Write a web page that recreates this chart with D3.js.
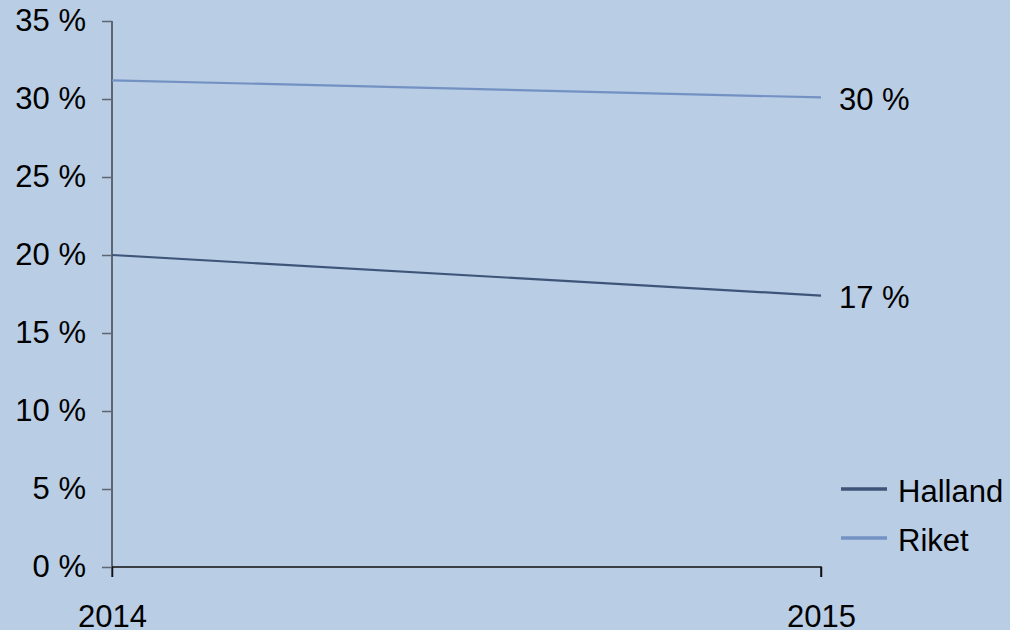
<!DOCTYPE html>
<html>
<head>
<meta charset="utf-8">
<script src="https://cdn.jsdelivr.net/npm/d3@7"></script>
<style>
  body { margin: 0; background: #B9CDE5; }
  svg { display: block; font-family: "Liberation Sans", Arial, sans-serif; }
</style>
</head>
<body>
<svg id="chart" width="1010" height="630"></svg>
<script>
// Data
const years = ["2014", "2015"];
const halland = [20.0, 17.4];
const riket = [31.2, 30.1];
const yTicks = [0, 5, 10, 15, 20, 25, 30, 35];
const seriesNames = ["Halland", "Riket"];
const endLabels = ["17 %", "30 %"];

const HALLAND_COLOR = "#3E5579";
const RIKET_COLOR = "#7391C2";
const AXIS_COLOR = "#5D6672";

const svg = d3.select("#chart");
const width = 1010, height = 630;

svg.append("rect").attr("width", width).attr("height", height).attr("fill", "#B9CDE5");

// Scales
const x = d3.scalePoint().domain(years).range([112, 821]);
const y = d3.scaleLinear().domain([0, 35]).range([567, 21]);

// Y axis
const axisY = d3.axisLeft(y)
  .tickValues(yTicks)
  .tickSize(10)
  .tickPadding(16)
  .tickFormat((d) => `${d} %`);

const gY = svg.append("g").attr("transform", `translate(${x("2014")}, 0)`).call(axisY);
gY.select(".domain").remove();
gY.selectAll(".tick line").attr("stroke", AXIS_COLOR).attr("stroke-width", 1.5);
gY.selectAll(".tick text")
  .attr("fill", "#000")
  .style("font-size", "31px")
  .style("font-family", "Liberation Sans, Arial, sans-serif");

// Vertical axis line extends past 0
svg.append("line")
  .attr("x1", x("2014")).attr("x2", x("2014"))
  .attr("y1", y(35)).attr("y2", y(0) + 10)
  .attr("stroke", AXIS_COLOR).attr("stroke-width", 2);

// X axis
const axisX = d3.axisBottom(x).tickSize(10).tickPadding(28);
const gX = svg.append("g").attr("transform", `translate(0, ${y(0)})`).call(axisX);
gX.select(".domain").attr("stroke", "#111").attr("stroke-width", 1.5)
  .attr("d", `M${x("2014")},0H${x("2015")}V10`);
gX.selectAll(".tick line").attr("stroke", "#111").attr("stroke-width", 1.5);
gX.selectAll(".tick text")
  .attr("fill", "#000")
  .style("font-size", "31px")
  .style("font-family", "Liberation Sans, Arial, sans-serif");

// Lines
const line = d3.line().x((d, i) => x(years[i])).y((d) => y(d));

svg.append("path").datum(riket)
  .attr("fill", "none").attr("stroke", RIKET_COLOR).attr("stroke-width", 2.2)
  .attr("d", line);
svg.append("path").datum(halland)
  .attr("fill", "none").attr("stroke", HALLAND_COLOR).attr("stroke-width", 2.2)
  .attr("d", line);

// End labels
[halland, riket].forEach((s, i) => {
  svg.append("text")
    .attr("x", x("2015") + 18)
    .attr("y", y(s[s.length - 1]) + 2)
    .attr("dominant-baseline", "central")
    .attr("font-size", 31)
    .attr("fill", "#000")
    .text(endLabels[i]);
});

// Legend
const legend = svg.append("g").attr("transform", "translate(841, 489)");
[HALLAND_COLOR, RIKET_COLOR].forEach((c, i) => {
  const g = legend.append("g").attr("transform", `translate(0, ${i * 49})`);
  g.append("line").attr("x1", 0).attr("x2", 46).attr("y1", 0).attr("y2", 0)
    .attr("stroke", c).attr("stroke-width", 3.5);
  g.append("text").attr("x", 57).attr("y", 2)
    .attr("dominant-baseline", "central")
    .attr("font-size", 31).attr("fill", "#000")
    .text(seriesNames[i]);
});
</script>
</body>
</html>
